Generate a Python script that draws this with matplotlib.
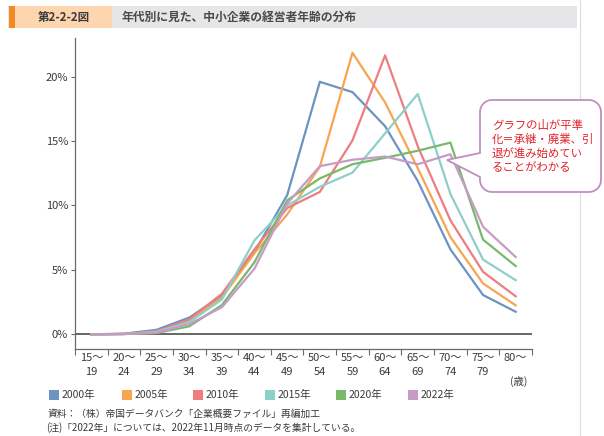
import numpy as np
import matplotlib
matplotlib.use("Agg")
import matplotlib.pyplot as plt
from matplotlib.patches import Rectangle, PathPatch
from matplotlib.path import Path

plt.rcParams['font.family'] = ['Noto Sans CJK JP', 'DejaVu Sans']

# ---- data -------------------------------------------------------------
age_labels = ["15～\n19", "20～\n24", "25～\n29", "30～\n34", "35～\n39",
              "40～\n44", "45～\n49", "50～\n54", "55～\n59", "60～\n64",
              "65～\n69", "70～\n74", "75～\n79", "80～\n"]
years = ["2000年", "2005年", "2010年", "2015年", "2020年", "2022年"]

share_2000 = [0.0, 0.05, 0.35, 1.3, 3.0, 6.4, 10.8, 19.6, 18.8, 16.15, 11.9, 6.6, 3.05, 1.75]
share_2005 = [0.0, 0.03, 0.2, 1.05, 2.85, 6.3, 9.3, 13.0, 21.85, 18.0, 12.9, 7.55, 3.95, 2.25]
share_2010 = [0.0, 0.03, 0.25, 1.15, 3.15, 6.6, 9.8, 11.05, 15.05, 21.65, 14.6, 8.85, 4.85, 2.95]
share_2015 = [0.0, 0.02, 0.2, 0.95, 2.7, 7.3, 10.0, 11.45, 12.55, 15.6, 18.65, 10.9, 5.8, 4.2]
share_2020 = [0.0, 0.02, 0.1, 0.62, 2.27, 5.6, 10.4, 12.1, 13.2, 13.7, 14.25, 14.88, 7.35, 5.3]
share_2022 = [0.0, 0.02, 0.12, 0.8, 2.1, 5.1, 10.15, 13.05, 13.55, 13.8, 13.2, 13.98, 8.35, 6.0]

series = [share_2000, share_2005, share_2010, share_2015, share_2020, share_2022]
colors = ["#6c93c2", "#f7a552", "#ee7d80", "#8dcfc9", "#78b96c", "#c69bc6"]

W, H = 604, 436


def fx(px):
    return px / W


def fy(py):
    return 1 - py / H


fig = plt.figure(figsize=(W / 100, H / 100), dpi=100)
fig.patch.set_facecolor("white")

# page edge line on the right
fig.add_artist(plt.Line2D([fx(580), fx(580)], [0, 1], transform=fig.transFigure,
                          color="#dcdcdc", lw=0.8, zorder=0))

# ---- header bar -------------------------------------------------------
fig.patches.append(Rectangle((fx(8), fy(28)), fx(577) - fx(8), (28 - 6) / H,
                             transform=fig.transFigure, facecolor="#e6e6e9",
                             edgecolor="none", zorder=1))
fig.patches.append(Rectangle((fx(15), fy(28)), fx(112) - fx(15), (28 - 6) / H,
                             transform=fig.transFigure, facecolor="#fdd6b0",
                             edgecolor="none", zorder=2))
fig.patches.append(Rectangle((fx(9), fy(28)), fx(15) - fx(9), (28 - 6) / H,
                             transform=fig.transFigure, facecolor="#f18a22",
                             edgecolor="none", zorder=3))
fig.text(fx(64), fy(17), "第2-2-2図", ha="center", va="center", fontsize=8.3,
         fontweight="bold", color="#3a3a3a", zorder=4)
fig.text(fx(122), fy(17), "年代別に見た、中小企業の経営者年齢の分布", ha="left",
         va="center", fontsize=8.5, fontweight="bold", color="#4a4a4a", zorder=4)

# ---- main axes --------------------------------------------------------
ax = fig.add_axes([fx(75), fy(349), (532 - 75) / W, (349 - 38) / H])
x = np.arange(len(age_labels))
for vals, col, yr in zip(series, colors, years):
    ax.plot(x, vals, color=col, lw=1.6, label=yr, zorder=3)

ax.set_xlim(-0.5, len(age_labels) - 0.5)
ax.set_ylim(-1.14, 23.0)
ax.axhline(0, color="#3d3d3d", lw=1.1, zorder=2)

for s in ["top", "right"]:
    ax.spines[s].set_visible(False)
for s in ["left", "bottom"]:
    ax.spines[s].set_color("#6a6a6a")
    ax.spines[s].set_linewidth(0.9)

yt = [0, 5, 10, 15, 20]
ax.set_yticks(yt)
ax.set_yticklabels([f"{v}%" for v in yt])
ax.tick_params(axis="y", length=3, width=0.8, color="#6a6a6a", labelsize=8,
               labelcolor="#3a3a3a", pad=2)

ax.set_xticks(np.arange(-0.5, len(age_labels), 1.0))
ax.set_xticklabels([])
ax.tick_params(axis="x", which="major", length=4, width=0.8, color="#6a6a6a")
ax.set_xticks(x, minor=True)
ax.set_xticklabels(age_labels, minor=True, fontsize=8, color="#3a3a3a",
                   linespacing=1.45)
ax.tick_params(axis="x", which="minor", length=0, pad=3)
fig.text(fx(519), fy(381), "(歳)", ha="center", va="center", fontsize=7.5,
         color="#3a3a3a")

# ---- legend -----------------------------------------------------------
leg_x = [49, 122, 193, 265, 336, 408]
for lx, col, yr in zip(leg_x, colors, years):
    fig.patches.append(Rectangle((fx(lx), fy(400)), 10 / W, 10 / H,
                                 transform=fig.transFigure, facecolor=col,
                                 edgecolor="none"))
    fig.text(fx(lx + 13), fy(395), yr, ha="left", va="center", fontsize=7.5,
             color="#3a3a3a")

# ---- source notes -----------------------------------------------------
fig.text(fx(48), fy(414), "資料：（株）帝国データバンク「企業概要ファイル」再編加工",
         ha="left", va="center", fontsize=7, color="#3a3a3a")
fig.text(fx(46), fy(428), "(注)「2022年」については、2022年11月時点のデータを集計している。",
         ha="left", va="center", fontsize=7, color="#3a3a3a")

# ---- speech-bubble annotation ----------------------------------------
x0, x1, y0, y1, r = 480, 601, 100, 192, 12
tip = (447, 160)
tail_top, tail_bot = 153, 177


def arc(cx, cy, a0, a1, n=10):
    t = np.linspace(np.radians(a0), np.radians(a1), n)
    return [(cx + r * np.cos(a), cy + r * np.sin(a)) for a in t]


pts = [(x0 + r, y0), (x1 - r, y0)]
pts += arc(x1 - r, y0 + r, -90, 0)
pts += [(x1, y1 - r)]
pts += arc(x1 - r, y1 - r, 0, 90)
pts += [(x0 + r, y1)]
pts += arc(x0 + r, y1 - r, 90, 180)
pts += [(x0, tail_bot), tip, (x0, tail_top), (x0, y0 + r)]
pts += arc(x0 + r, y0 + r, 180, 270)
verts = [(fx(px), fy(py)) for px, py in pts]
verts.append(verts[0])
codes = [Path.MOVETO] + [Path.LINETO] * (len(verts) - 2) + [Path.CLOSEPOLY]
bubble = PathPatch(Path(verts, codes), transform=fig.transFigure,
                   facecolor="white", edgecolor="#c08fc0", lw=1.3, zorder=10)
fig.patches.append(bubble)

note_lines = ["グラフの山が平準", "化＝承継・廃業、引", "退が進み始めてい", "ることがわかる"]
for i, line in enumerate(note_lines):
    fig.text(fx(492), fy(125 + 14.4 * i), line, ha="left", va="center",
             fontsize=8.2, color="#e0232b", zorder=11)

fig.savefig("out.png", dpi=100)
